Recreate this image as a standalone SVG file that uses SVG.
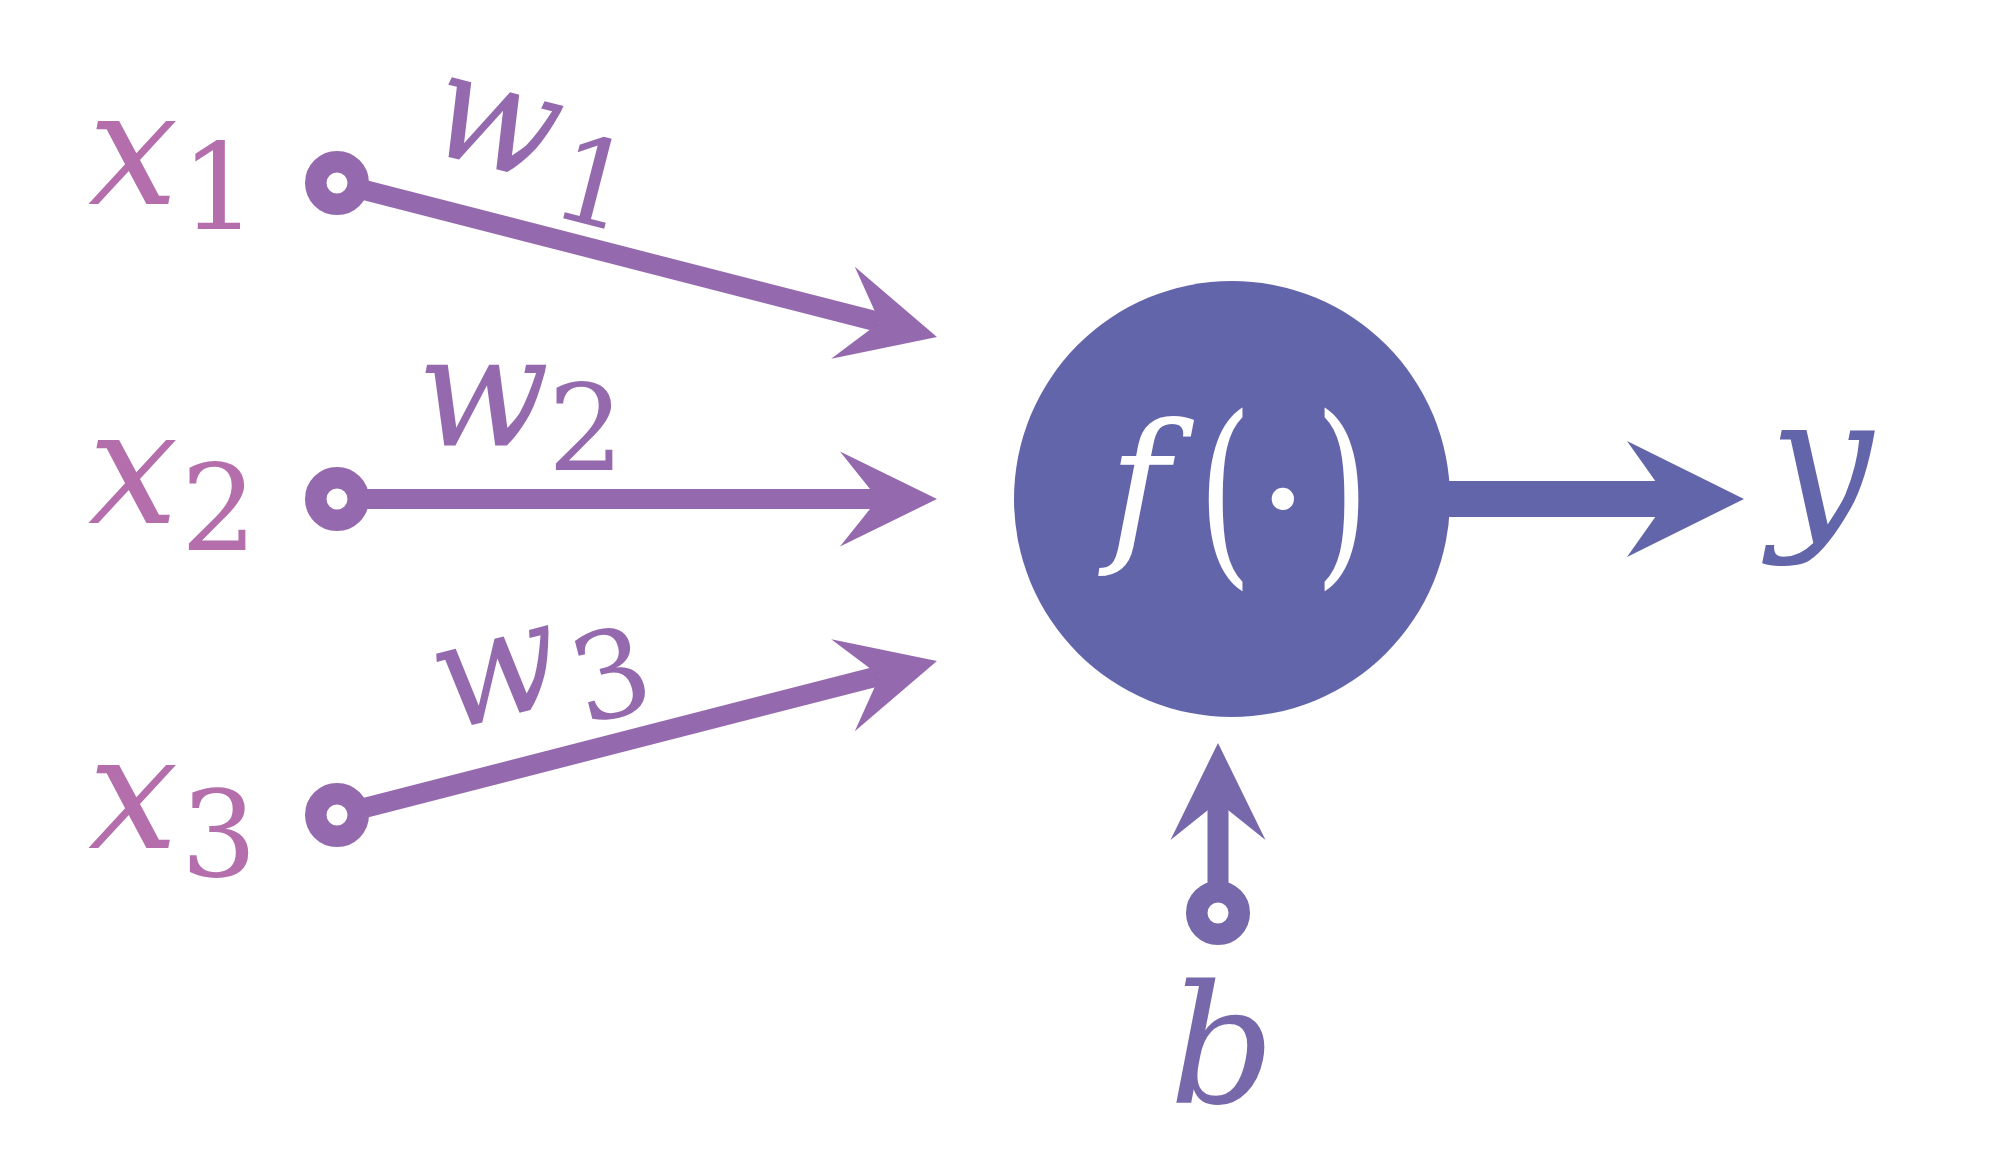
<svg xmlns="http://www.w3.org/2000/svg" width="2000" height="1152" viewBox="0 0 2000 1152">
  <defs>
    <style>
      .bg { fill: #ffffff; }
      .in-line { stroke: #9569ad; stroke-width: 20; fill: none; }
      .in-ring { stroke: #9569ad; stroke-width: 21.5; fill: #ffffff; }
      .b-line { stroke: #7768ab; stroke-width: 21; fill: none; }
      .b-ring { stroke: #7768ab; stroke-width: 21.5; fill: #ffffff; }
      .out-line { stroke: #6365ab; stroke-width: 36; fill: none; }
      .neuron { fill: #6365ab; }
      .lbl { font-family: "DejaVu Serif", serif; }
      .it { font-style: italic; }
      .xl { fill: #b46eac; }
      .wl { fill: #9569ad; }
      .yl { fill: #6365ab; }
      .bl { fill: #7768ab; }
      .fl { fill: #ffffff; }
    </style>
    <marker id="headIn" markerUnits="userSpaceOnUse" viewBox="-100 -50 102 100" markerWidth="102" markerHeight="100" refX="-59" refY="0" orient="auto">
      <path d="M0,0 L-97,-47.5 L-59,0 L-97,47.5 Z" fill="#9569ad"/>
    </marker>
    <marker id="headB" markerUnits="userSpaceOnUse" viewBox="-100 -50 102 100" markerWidth="102" markerHeight="100" refX="-59" refY="0" orient="auto">
      <path d="M0,0 L-97,-47.5 L-59,0 L-97,47.5 Z" fill="#7768ab"/>
    </marker>
    <marker id="headOut" markerUnits="userSpaceOnUse" viewBox="-120 -60 122 120" markerWidth="122" markerHeight="120" refX="-76" refY="0" orient="auto">
      <path d="M0,0 L-117,-58 L-76,0 L-117,58 Z" fill="#6365ab"/>
    </marker>
  </defs>
  <rect class="bg" x="0" y="0" width="2000" height="1152"/>

  <g id="connectors">
    <line class="in-line" x1="337" y1="183" x2="879.8" y2="322.3" marker-end="url(#headIn)"/>
    <line class="in-line" x1="337" y1="499" x2="878" y2="499" marker-end="url(#headIn)"/>
    <line class="in-line" x1="337" y1="815" x2="879.8" y2="675.7" marker-end="url(#headIn)"/>
    <line class="b-line" x1="1218" y1="913" x2="1218" y2="802" marker-end="url(#headB)"/>
    <line class="out-line" x1="1232" y1="499" x2="1668" y2="499" marker-end="url(#headOut)"/>
  </g>

  <g id="input-x1">
    <circle class="in-ring" cx="337" cy="183" r="21.25"/>
    <text class="lbl it xl" x="133" y="204" font-size="160" text-anchor="middle">x</text>
    <text class="lbl xl" x="219" y="229" font-size="120" text-anchor="middle">1</text>
  </g>
  <g id="input-x2">
    <circle class="in-ring" cx="337" cy="499" r="21.25"/>
    <text class="lbl it xl" x="133" y="523" font-size="160" text-anchor="middle">x</text>
    <text class="lbl xl" x="219" y="550" font-size="120" text-anchor="middle">2</text>
  </g>
  <g id="input-x3">
    <circle class="in-ring" cx="337" cy="815" r="21.25"/>
    <text class="lbl it xl" x="133" y="848" font-size="160" text-anchor="middle">x</text>
    <text class="lbl xl" x="219" y="876" font-size="120" text-anchor="middle">3</text>
  </g>

  <g id="weight-w1" transform="translate(501,128) rotate(14.4)">
    <text class="lbl it wl" x="-6" y="41" font-size="150" text-anchor="middle">w</text>
    <text class="lbl wl" x="104" y="72" font-size="120" text-anchor="middle">1</text>
  </g>
  <g id="weight-w2" transform="translate(485,405)">
    <text class="lbl it wl" x="-2" y="41" font-size="155" text-anchor="middle">w</text>
    <text class="lbl wl" x="101" y="65" font-size="120" text-anchor="middle">2</text>
  </g>
  <g id="weight-w3" transform="translate(494,677) rotate(-14.4)">
    <text class="lbl it wl" x="4" y="41" font-size="150" text-anchor="middle">w</text>
    <text class="lbl wl" x="114" y="69" font-size="120" text-anchor="middle">3</text>
  </g>

  <g id="neuron">
    <circle class="neuron" cx="1232" cy="499" r="218"/>
    <text class="lbl it fl" x="1139" y="542" font-size="165" text-anchor="middle">f</text>
    <text class="lbl fl" transform="translate(1225,560) scale(1,1.43)" x="0" y="0" font-size="140" text-anchor="middle">(</text>
    <text class="lbl fl" x="1283" y="558" font-size="170" text-anchor="middle">·</text>
    <text class="lbl fl" transform="translate(1342,560) scale(1,1.43)" x="0" y="0" font-size="140" text-anchor="middle">)</text>
  </g>

  <g id="bias">
    <circle class="b-ring" cx="1218" cy="913" r="21.25"/>
    <text class="lbl it bl" x="1222" y="1103" font-size="165" text-anchor="middle">b</text>
  </g>

  <g id="output-y">
    <text class="lbl it yl" x="1821" y="525" font-size="184" text-anchor="middle">y</text>
  </g>
</svg>
